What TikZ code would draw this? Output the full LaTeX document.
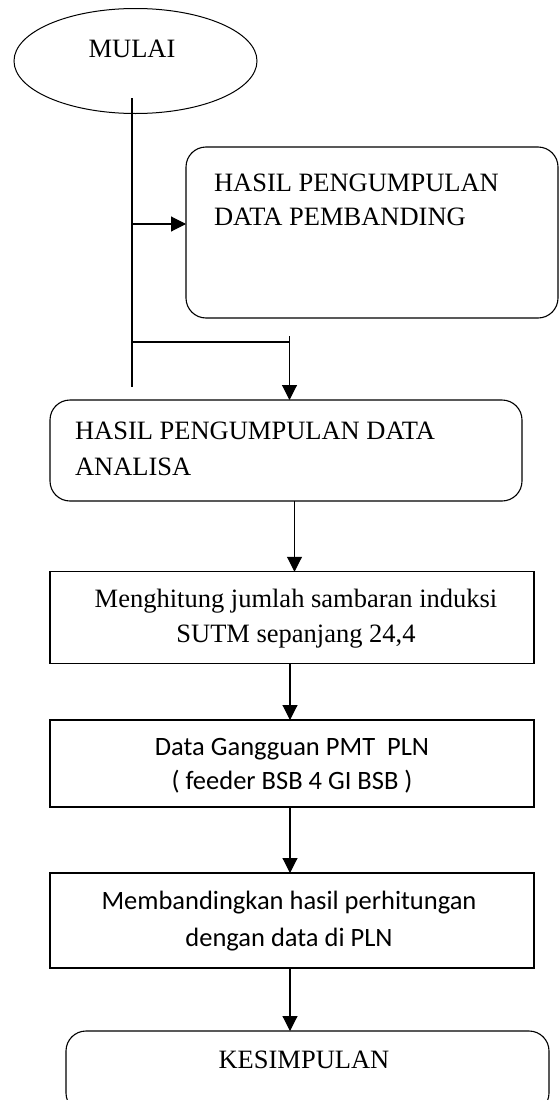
\documentclass[tikz,border=0pt]{standalone}
\usepackage{fontspec}
\setmainfont{Liberation Serif}
\newfontfamily\calib{Carlito}
\usetikzlibrary{shapes.geometric,arrows.meta}
\begin{document}
\begin{tikzpicture}[x=1pt,y=-1pt,
  every node/.style={inner sep=0pt, outer sep=0pt},
  box/.style={draw, line width=1.2pt, rectangle},
  rbox/.style={draw, line width=1.1pt, rectangle, rounded corners=20pt},
  txt/.style={anchor=base, font=\fontsize{26.5}{34}\selectfont},
  ltxt/.style={anchor=base west, font=\fontsize{26.5}{34}\selectfont},
  ctxt/.style={anchor=base, font=\calib\fontsize{26.5}{34}\selectfont},
  line/.style={line width=1.1pt},
  arr/.style={line width=1.1pt, -{Triangle[length=15pt,width=15pt]}}]
\useasboundingbox (0,0) rectangle (559,1100);
% start
\node[draw, ellipse, line width=1pt, minimum width=243pt, minimum height=105pt] (mulai) at (135.5,61) {};
\node[txt] (tmulai) at (132,57) {MULAI};
% box 1
\node[rbox, minimum width=372pt, minimum height=171pt] (b1) at (372,232.5) {};
\node[ltxt] (t1a) at (214,191) {HASIL PENGUMPULAN};
\node[ltxt] (t1b) at (214,225) {DATA PEMBANDING};
% box 2
\node[rbox, minimum width=472pt, minimum height=101pt] (b2) at (286,450.5) {};
\node[ltxt] (t2a) at (75,439) {HASIL PENGUMPULAN DATA};
\node[ltxt] (t2b) at (75,475) {ANALISA};
% box 3
\node[box, minimum width=484pt, minimum height=91.5pt] (b3) at (292,617.5) {};
\node[txt] (t3a) at (296,607.7) {Menghitung jumlah sambaran induksi};
\node[txt] (t3b) at (296,642) {SUTM sepanjang 24,4};
% box 4
\node[box, minimum width=484pt, minimum height=87pt] (b4) at (292,763.5) {};
\node[ctxt] (t4a) at (292,755.7) {Data Gangguan PMT\ \ PLN};
\node[ctxt] (t4b) at (292,789) {( feeder BSB 4 GI BSB )};
% box 5
\node[box, minimum width=484pt, minimum height=95pt] (b5) at (292,920.5) {};
\node[ctxt] (t5a) at (289,909) {Membandingkan hasil perhitungan};
\node[ctxt] (t5b) at (289,946.7) {dengan data di PLN};
% box 6 (bottom runs past the page edge)
\node[rbox, minimum width=483pt, minimum height=82pt] (b6) at (307.5,1072) {};
\node[txt] (t6) at (304,1068) {KESIMPULAN};
% connectors
\coordinate (trTop) at (132,98);
\coordinate (trBot) at (132,387);
\coordinate (j1) at (132,224);
\coordinate (j2) at (132,342);
\coordinate (j2r) at (289.5,342);
\coordinate (j2t) at (289.5,336);
\draw[line] (trTop) -- (trBot);
\draw[arr] (j1) -- (j1 -| b1.west);
\draw[line] (j2) -- (j2r);
\draw[arr] (j2t) -- (j2t |- b2.north);
\draw[arr] (b2.south -| 294.5,0) -- (294.5,0 |- b3.north);
\draw[arr] (b3.south -| 290,0) -- (290,0 |- b4.north);
\draw[arr] (b4.south -| 290,0) -- (290,0 |- b5.north);
\draw[arr] (b5.south -| 290,0) -- (290,0 |- b6.north);
\end{tikzpicture}
\end{document}
